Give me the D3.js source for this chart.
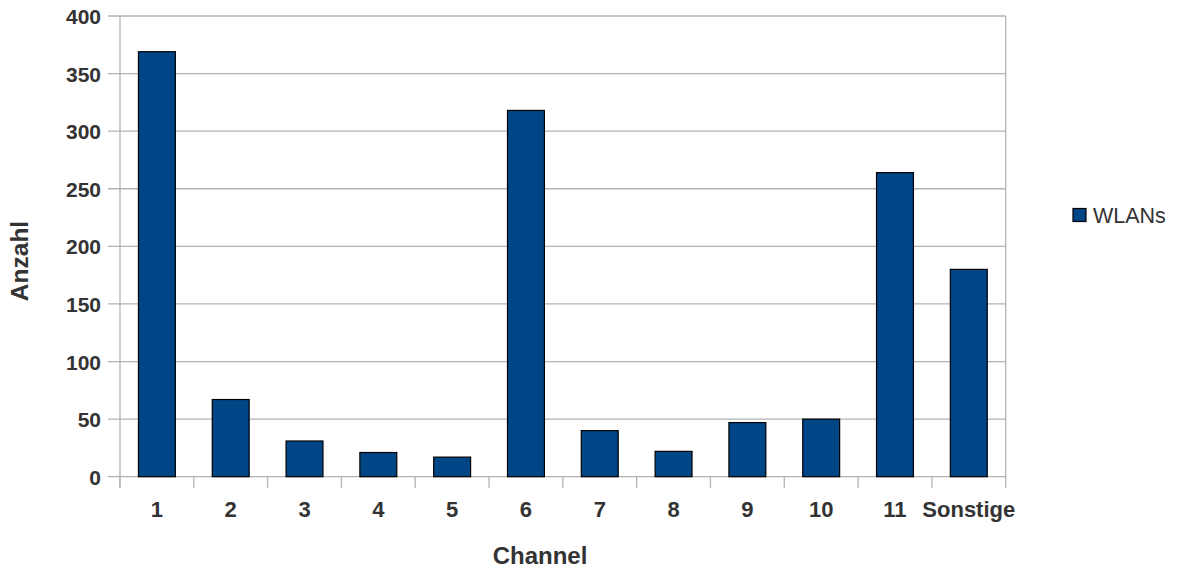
<!DOCTYPE html>
<html><head><meta charset="utf-8">
<script src="https://cdn.jsdelivr.net/npm/d3@7"></script>
<style>body{margin:0;background:#fff}text{font-family:"Liberation Sans",Arial,sans-serif}</style>
</head><body>
<svg id="c" width="1179" height="571"></svg>
<script>
const categories = ["1","2","3","4","5","6","7","8","9","10","11","Sonstige"];
const values = [369, 67, 31, 21, 17, 318, 40, 22, 47, 50, 264, 180];
const yTicks = [0,50,100,150,200,250,300,350,400];
const seriesName = "WLANs";

const svg = d3.select("#c");
const L = 120, R = 1005.7, T = 16, B = 476.7;
const x = d3.scaleBand().domain(categories).range([L, R]).paddingInner(0.5).paddingOuter(0.25);
const y = d3.scaleLinear().domain([0, 400]).range([B, T]);
const grid = "#b3b3b3", txt = "#333333", blue = "#004586";
const gap = (x.step() - x.bandwidth()) / 2;

// grid
svg.append("g").selectAll("line").data(yTicks).join("line")
  .attr("x1", L - 12).attr("x2", R).attr("y1", d => y(d)).attr("y2", d => y(d))
  .attr("stroke", grid).attr("stroke-width", 1.3);
// frame verticals
svg.append("line").attr("x1", L).attr("x2", L).attr("y1", T).attr("y2", B + 11)
  .attr("stroke", grid).attr("stroke-width", 1.3);
svg.append("line").attr("x1", R).attr("x2", R).attr("y1", T).attr("y2", B + 11)
  .attr("stroke", grid).attr("stroke-width", 1.3);
// x ticks at band boundaries
svg.append("g").selectAll("line").data(categories).join("line")
  .attr("x1", d => x(d) - gap).attr("x2", d => x(d) - gap)
  .attr("y1", B).attr("y2", B + 11)
  .attr("stroke", grid).attr("stroke-width", 1.3);

// bars
svg.append("g").selectAll("rect").data(values).join("rect")
  .attr("x", (d, i) => x(categories[i]))
  .attr("width", x.bandwidth())
  .attr("y", d => y(d))
  .attr("height", d => B - y(d))
  .attr("fill", blue).attr("stroke", "#000").attr("stroke-width", 1.2);

// y tick labels
svg.append("g").selectAll("text").data(yTicks).join("text")
  .attr("x", 101).attr("y", d => y(d) + 8)
  .attr("text-anchor", "end").attr("font-size", 21).attr("font-weight", "bold")
  .attr("fill", txt).text(d => d);
// x tick labels
svg.append("g").selectAll("text").data(categories).join("text")
  .attr("x", d => x(d) + x.bandwidth() / 2).attr("y", 516.5)
  .attr("text-anchor", "middle").attr("font-size", 22).attr("font-weight", "bold")
  .attr("fill", txt).text(d => d);

// axis titles
svg.append("text").attr("x", 540).attr("y", 564).attr("text-anchor", "middle")
  .attr("font-size", 24).attr("font-weight", "bold").attr("fill", txt).text("Channel");
svg.append("text").attr("transform", "translate(28,261) rotate(-90)").attr("text-anchor", "middle")
  .attr("font-size", 24.5).attr("font-weight", "bold").attr("fill", txt).text("Anzahl");

// legend
svg.append("rect").attr("x", 1073).attr("y", 208.5).attr("width", 13).attr("height", 13)
  .attr("fill", blue).attr("stroke", "#000").attr("stroke-width", 1.2);
svg.append("text").attr("x", 1093).attr("y", 222.5).attr("font-size", 21.5)
  .attr("fill", txt).text(seriesName);
</script>
</body></html>
